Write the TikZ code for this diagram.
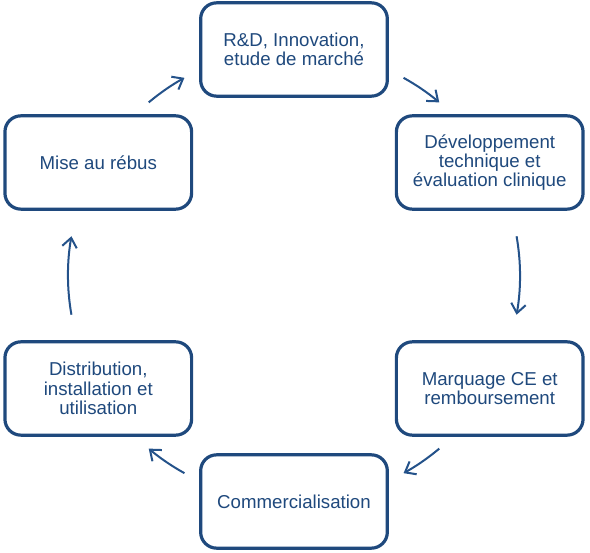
\documentclass[tikz,border=0pt]{standalone}
\usepackage{fontspec}
\setmainfont{Liberation Sans}
\usetikzlibrary{arrows.meta, calc}
\definecolor{cycleblue}{HTML}{1F497D}
\definecolor{cyclearrow}{HTML}{24528A}

\begin{document}
\begin{tikzpicture}[x=0.75pt, y=0.75pt,
  stage/.style={draw=cycleblue, line width=2.4pt, fill=white, rounded corners=12pt,
    minimum width=140pt, minimum height=70pt, inner sep=0pt, align=center,
    text=cycleblue, font=\fontsize{14}{14.5}\selectfont},
  flow/.style={cyclearrow, line width=1.5pt, -{Straight Barb[length=7pt, width=11pt]}}]
  \useasboundingbox (0,0) rectangle (590,553);
  \coordinate (ctr) at (294,277.5);
  \def\R{169.5pt}

  % Stages around the cycle
  \node[stage] (rd)    at ($(ctr)+(90:\R)$)   {R\&D, Innovation,\\etude de marché};
  \node[stage] (dev)   at ($(ctr)+(30:\R)$)   {Développement\\technique et\\évaluation clinique};
  \node[stage] (ce)    at ($(ctr)+(-30:\R)$)  {Marquage CE et\\remboursement};
  \node[stage] (comm)  at ($(ctr)+(-90:\R)$)  {Commercialisation};
  \node[stage] (distr) at ($(ctr)+(-150:\R)$) {Distribution,\\installation et\\utilisation};
  \node[stage] (rebus) at ($(ctr)+(150:\R)$)  {Mise au rébus};

  % Arrows between stages
  \foreach \from/\to in {61/50, 10/-10, -50/-61, -119/-130, -170/-190, 130/119}
    \draw[flow] ($(ctr)+(\from:\R)$) arc[start angle=\from, end angle=\to, radius=\R];
\end{tikzpicture}
\end{document}
